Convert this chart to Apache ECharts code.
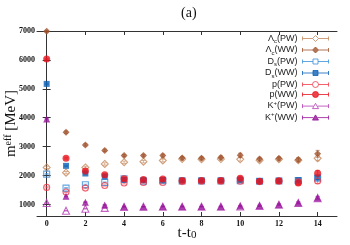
<!DOCTYPE html>
<html><head><meta charset="utf-8">
<script src="https://cdn.jsdelivr.net/npm/echarts@6/dist/echarts.min.js"></script>
<style>html,body{margin:0;padding:0;background:#fff}#c{width:350px;height:245px}</style>
</head><body><div id="c"></div>
<script>
const tValues = [0,1,2,3,4,5,6,7,8,9,10,11,12,13,14];
const xTicks = [0,2,4,6,8,10,12,14];
const yTicks = [1000,2000,3000,4000,5000,6000,7000];

const LcPW = [2280,2100,2280,2400,2460,2480,2520,2570,2560,2570,2560,2530,2560,2530,2600];
const LcWW = [6990,3500,3060,2870,2690,2690,2690,2610,2600,2620,2700,2570,2590,2550,2750];
const DsPW = [2050,1565,1680,1760,1890,1800,1820,1810,1810,1810,1820,1800,1810,1830,1910];
const DsWW = [5170,2335,2070,1966,1850,1840,1840,1830,1830,1830,1850,1810,1820,1840,1930];
const pPW  = [1590,1430,1565,1655,1740,1760,1760,1790,1800,1800,1800,1790,1800,1780,1810];
const pWW  = [6030,2600,2160,2025,1890,1860,1880,1830,1830,1830,1910,1800,1820,1740,2080];
const KPW  = [1050,780,850,880,910,920,920,920,920,920,930,950,990,1050,1220];
const KWW  = [3960,1280,1080,980,930,920,930,930,930,930,945,960,1000,1060,1230];

const LcPW_err = [40,40,40,40,40,40,50,50,50,50,60,60,60,70,90];
const LcWW_err = [30,40,40,40,40,40,50,50,50,60,70,60,60,70,120];
const DsPW_err = [20,20,20,20,30,30,30,30,30,40,40,40,40,50,60];
const DsWW_err = [20,20,20,20,30,30,30,30,30,40,40,40,40,50,70];
const pPW_err  = [20,20,20,20,30,30,30,30,30,40,40,40,50,50,80];
const pWW_err  = [20,30,30,30,30,30,30,40,40,40,60,50,50,70,100];
const KPW_err  = [10,10,10,10,10,10,10,10,10,10,20,20,20,30,40];
const KWW_err  = [10,10,10,10,10,10,10,10,10,10,20,20,20,30,40];

const legendLabels = {
  'Λc(PW)':'{n|Λ}{s|c}{n|(PW)}','Λc(WW)':'{n|Λ}{s|c}{n|(WW)}',
  'Ds(PW)':'{n|D}{s|s}{n|(PW)}','Ds(WW)':'{n|D}{s|s}{n|(WW)}',
  'p(PW)':'{n|p(PW)}','p(WW)':'{n|p(WW)}',
  'K+(PW)':'{n|K}{u|+}{n|(PW)}','K+(WW)':'{n|K}{u|+}{n|(WW)}'
};

const defs = [
  {name:'Λc(PW)', v:LcPW, e:LcPW_err, sym:'diamond', c:'#c4875a', filled:false, size:7, shape:'M13 0L16 3L13 6L10 3Z', gapL:10, gapR:16},
  {name:'Λc(WW)', v:LcWW, e:LcWW_err, sym:'diamond', c:'#a0522d', filled:true, size:7, shape:'M13 0L16 3L13 6L10 3Z', gapL:10, gapR:16},
  {name:'Ds(PW)', v:DsPW, e:DsPW_err, sym:'rect', c:'#3b8fd9', filled:false, size:6, shape:'M10.5 0.5L15.5 0.5L15.5 5.5L10.5 5.5Z', gapL:10.5, gapR:15.5},
  {name:'Ds(WW)', v:DsWW, e:DsWW_err, sym:'rect', c:'#0d62b5', filled:true, size:6, shape:'M10.5 0.5L15.5 0.5L15.5 5.5L10.5 5.5Z', gapL:10.5, gapR:15.5},
  {name:'p(PW)', v:pPW, e:pPW_err, sym:'circle', c:'#f03a48', filled:false, size:6, shape:'M16 3A3 3 0 1 1 10 3A3 3 0 1 1 16 3Z', gapL:10, gapR:16},
  {name:'p(WW)', v:pWW, e:pWW_err, sym:'circle', c:'#e8141e', filled:true, size:7, shape:'M16 3A3 3 0 1 1 10 3A3 3 0 1 1 16 3Z', gapL:10, gapR:16},
  {name:'K+(PW)', v:KPW, e:KPW_err, sym:'triangle', c:'#b43cb4', filled:false, size:7, shape:'M13 0.3L16 5.5L10 5.5Z', gapL:11, gapR:15},
  {name:'K+(WW)', v:KWW, e:KWW_err, sym:'triangle', c:'#96119a', filled:true, size:7, shape:'M13 0.3L16 5.5L10 5.5Z', gapL:11, gapR:15}
];

const series = [];
defs.forEach(d => {
  series.push({
    type:'custom', name:d.name+'_err', silent:true, clip:false,
    data: tValues.map((t,i)=>[t, d.v[i], d.e[i]]),
    renderItem: function(params, api){
      const x = api.value(0), y = api.value(1), er = api.value(2);
      const p1 = api.coord([x, y+er]), p2 = api.coord([x, y-er]);
      const st = {stroke:d.c, lineWidth:1, opacity:0.6};
      return {type:'group', children:[
        {type:'line', shape:{x1:p1[0],y1:p1[1],x2:p2[0],y2:p2[1]}, style:st},
        {type:'line', shape:{x1:p1[0]-2,y1:p1[1],x2:p1[0]+2,y2:p1[1]}, style:st},
        {type:'line', shape:{x1:p2[0]-2,y1:p2[1],x2:p2[0]+2,y2:p2[1]}, style:st}
      ]};
    }
  });
  series.push({
    type:'scatter', name:d.name, clip:false,
    symbol:d.sym, symbolSize:d.size,
    data: tValues.map((t,i)=>[t, d.v[i]]),
    itemStyle: d.filled ? {color:d.c} : {color:'rgba(255,255,255,0)', borderColor:d.c, borderWidth:1.1},
    emphasis:{disabled:true}
  });
});

const legendData = defs.map(d => ({
  name:d.name,
  icon:'path://M0 1L0 5M0 3L'+d.gapL+' 3M'+d.gapR+' 3L26 3M26 1L26 5'+d.shape,
  itemStyle:{color: d.filled ? d.c : 'rgba(255,255,255,0)', borderColor:d.c, borderWidth:1}
}));

const axisCol = '#333';
const serif = 'Liberation Serif';
const chart = echarts.init(document.getElementById('c'), null, {renderer:'canvas'});
chart.setOption({
  animation:false,
  backgroundColor:'#fff',
  title:{text:'(a)', left:181, top:6, padding:0, textStyle:{fontFamily:serif, fontSize:14, fontWeight:'normal', color:'#111'}},
  grid:{left:37, right:13, top:31, bottom:29, containLabel:false, outerBoundsMode:'none'},
  legend:{
    orient:'vertical', right:21, top:34, padding:0, align:'right',
    itemWidth:26, itemHeight:6, itemGap:1,
    data:legendData,
    selectedMode:false,
    formatter: n => legendLabels[n],
    textStyle:{
      color:'#222', fontFamily:'Liberation Sans', fontSize:9,
      rich:{
        n:{fontFamily:'Liberation Sans', fontSize:9, lineHeight:12, color:'#222'},
        s:{fontFamily:'Liberation Sans', fontSize:6, lineHeight:6, verticalAlign:'bottom', color:'#222'},
        u:{fontFamily:'Liberation Sans', fontSize:6, lineHeight:6, verticalAlign:'top', color:'#222'}
      }
    }
  },
  xAxis:[{
    type:'value', min:-0.5, max:15, position:'bottom',
    name:'{n|t-t}{s|0}', nameLocation:'middle', nameGap:9, nameMoveOverlap:false,
    nameTextStyle:{rich:{
      n:{fontFamily:serif, fontSize:15, lineHeight:16, color:'#111'},
      s:{fontFamily:serif, fontSize:11, lineHeight:10, verticalAlign:'bottom', color:'#111'}
    }},
    axisLine:{lineStyle:{color:axisCol, width:1}},
    axisTick:{inside:true, length:4, customValues:xTicks, lineStyle:{color:axisCol}},
    axisLabel:{customValues:xTicks, formatter: v => String(v), fontFamily:serif, fontWeight:'bold', fontSize:8, color:'#111', margin:4},
    splitLine:{show:false}
  },{
    type:'value', min:-0.5, max:15, position:'top',
    axisLine:{lineStyle:{color:axisCol, width:1}},
    axisTick:{inside:true, length:4, customValues:xTicks, lineStyle:{color:axisCol}},
    axisLabel:{show:false}, splitLine:{show:false}
  }],
  yAxis:[{
    type:'value', min:600, max:7000, position:'left',
    name:'{n|m}{u|eff}{n| [MeV]}', nameLocation:'middle', nameGap:18, nameRotate:90, nameMoveOverlap:false,
    nameTextStyle:{rich:{
      n:{fontFamily:serif, fontSize:15, lineHeight:16, color:'#111'},
      u:{fontFamily:serif, fontSize:10, lineHeight:9, verticalAlign:'top', color:'#111'}
    }},
    axisLine:{show:true, lineStyle:{color:axisCol, width:1}},
    axisTick:{show:true, inside:true, length:4, customValues:yTicks, lineStyle:{color:axisCol}},
    axisLabel:{customValues:yTicks, formatter: v => String(v), fontFamily:serif, fontWeight:'bold', fontSize:8, color:'#111', margin:2},
    splitLine:{show:false}
  },{
    type:'value', min:600, max:7000, position:'right',
    axisLine:{show:true, lineStyle:{color:axisCol, width:1}},
    axisTick:{show:true, inside:true, length:4, customValues:yTicks, lineStyle:{color:axisCol}},
    axisLabel:{show:false}, splitLine:{show:false}
  }],
  series: series
});
</script></body></html>
